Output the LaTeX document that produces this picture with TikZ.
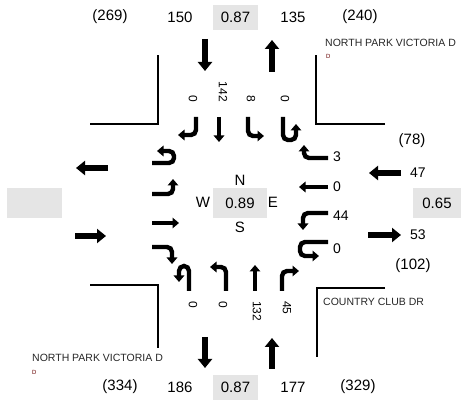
\documentclass[tikz,border=0pt]{standalone}
\usepackage{fontspec}
\setmainfont{Liberation Sans}
\usetikzlibrary{arrows.meta}

\begin{document}
\begin{tikzpicture}[
        x=1pt, y=-1pt,
        every node/.style={font=\fontsize{15}{17}\selectfont, inner sep=1pt},
        vol/.style={font=\fontsize{14}{16}\selectfont, anchor=west},
        lanevol/.style={font=\fontsize{12}{14}\selectfont, rotate=-90},
        street/.style={font=\fontsize{10.5}{12}\selectfont, anchor=west, text=black!85},
        streetcut/.style={font=\fontsize{6}{7}\selectfont, anchor=west, text=red!40!black},
        pkbox/.style={fill=black!10, minimum width=45pt, minimum height=25pt},
        curb/.style={line width=1.5pt},
        bigarrow/.style={line width=6pt, -{Triangle[length=9pt,width=14pt]}},
        lane/.style={line width=4.4pt, rounded corners=5pt, -{Triangle[length=6.5pt,width=10.5pt]}}
    ]
    \useasboundingbox (0,0) rectangle (461,403);

    % approach totals
    \node (nin-pk) at (110,17) {(269)};
    \node (nin) at (180,17) {150};
    \node[pkbox] (nphf) at (235.5,17.5) {0.87};
    \node (nout) at (293,17) {135};
    \node (nout-pk) at (360,17) {(240)};

    \node (sout-pk) at (120,387) {(334)};
    \node (sout) at (180,387) {186};
    \node[pkbox] (sphf) at (235.5,387.5) {0.87};
    \node (sin) at (293,387) {177};
    \node (sin-pk) at (358,387) {(329)};

    \node (ein-pk) at (412,141) {(78)};
    \node[vol] (ein) at (409,173) {47};
    \node[pkbox, minimum width=48pt, minimum height=30pt] (ephf) at (437,203) {0.65};
    \node[vol] (eout) at (409,235) {53};
    \node (eout-pk) at (413,266) {(102)};

    \node[pkbox, minimum width=55pt, minimum height=30pt] (wphf) at (34.5,203) {};

    % intersection
    \node (north) at (240,180) {N};
    \node[pkbox, minimum width=54pt, minimum height=30pt] (iphf) at (240,203) {0.89};
    \node (west) at (203,202) {W};
    \node (east) at (273,202) {E};
    \node (south) at (240,227) {S};

    % curbs
    \draw[curb] (90,124) -- (158,124) -- (158,55);
    \draw[curb] (385,124) -- (316,124) -- (316,55);
    \draw[curb] (90,285) -- (158,285) -- (158,348);
    \draw[curb] (385,288) -- (317,288) -- (317,357);

    % street names
    \node[street] (npv-top) at (324,43) {NORTH PARK VICTORIA D};
    \node[streetcut] (npv-top2) at (325,56) {D};
    \node[street] (npv-bot) at (31,358) {NORTH PARK VICTORIA D};
    \node[streetcut] (npv-bot2) at (31,372) {D};
    \node[street] (ccd) at (322,302) {COUNTRY CLUB DR};

    % approach arrows
    \draw[bigarrow] (205,39) -- (205,71);
    \draw[bigarrow] (272,72) -- (272,40);
    \draw[bigarrow] (108,168) -- (76,168);
    \draw[bigarrow] (75,236) -- (106,236);
    \draw[bigarrow] (401,173) -- (369,173);
    \draw[bigarrow] (368,235) -- (401,235);
    \draw[bigarrow] (205,337) -- (205,368);
    \draw[bigarrow] (272,369) -- (272,338);

    % southbound lanes
    \draw[lane] (196,117) -- (196,135) -- (178,135);
    \draw[lane] (219,117) -- (219,142);
    \draw[lane] (248,117) -- (248,136) -- (264,136);
    \draw[lane] (283,117) -- (283,140) -- (296,140) -- (296,124);
    \node[lanevol, anchor=east] (sb-r) at (193,103) {0};
    \node[lanevol, anchor=east] (sb-t) at (223,103) {142};
    \node[lanevol, anchor=east] (sb-l) at (251,103) {8};
    \node[lanevol, anchor=east] (sb-u) at (285,103) {0};

    % westbound lanes
    \draw[lane] (328,158) -- (304,158) -- (304,145);
    \draw[lane] (328,187) -- (299,187);
    \draw[lane] (328,213) -- (303,213) -- (303,230);
    \draw[lane] (328,242) -- (300,242) -- (300,256) -- (319,256);
    \node[vol] (wb-r) at (332,157) {3};
    \node[vol] (wb-t) at (332,187) {0};
    \node[vol] (wb-l) at (332,216) {44};
    \node[vol] (wb-u) at (332,249) {0};

    % eastbound lanes
    \draw[lane] (152,163) -- (174,163) -- (174,151) -- (157,151);
    \draw[lane] (152,194) -- (173,194) -- (173,179);
    \draw[lane] (152,223) -- (179,223);
    \draw[lane] (152,247) -- (172,247) -- (172,264);

    % northbound lanes
    \draw[lane] (189,291) -- (189,266) -- (179,266) -- (179,282);
    \draw[lane] (226,291) -- (226,267) -- (210,267);
    \draw[lane] (255,291) -- (255,265);
    \draw[lane] (282,291) -- (282,271) -- (299,271);
    \node[lanevol, anchor=west] (nb-u) at (193,300) {0};
    \node[lanevol, anchor=west] (nb-l) at (223,300) {0};
    \node[lanevol, anchor=west] (nb-t) at (257,300) {132};
    \node[lanevol, anchor=west] (nb-r) at (287,300) {45};
\end{tikzpicture}
\end{document}
